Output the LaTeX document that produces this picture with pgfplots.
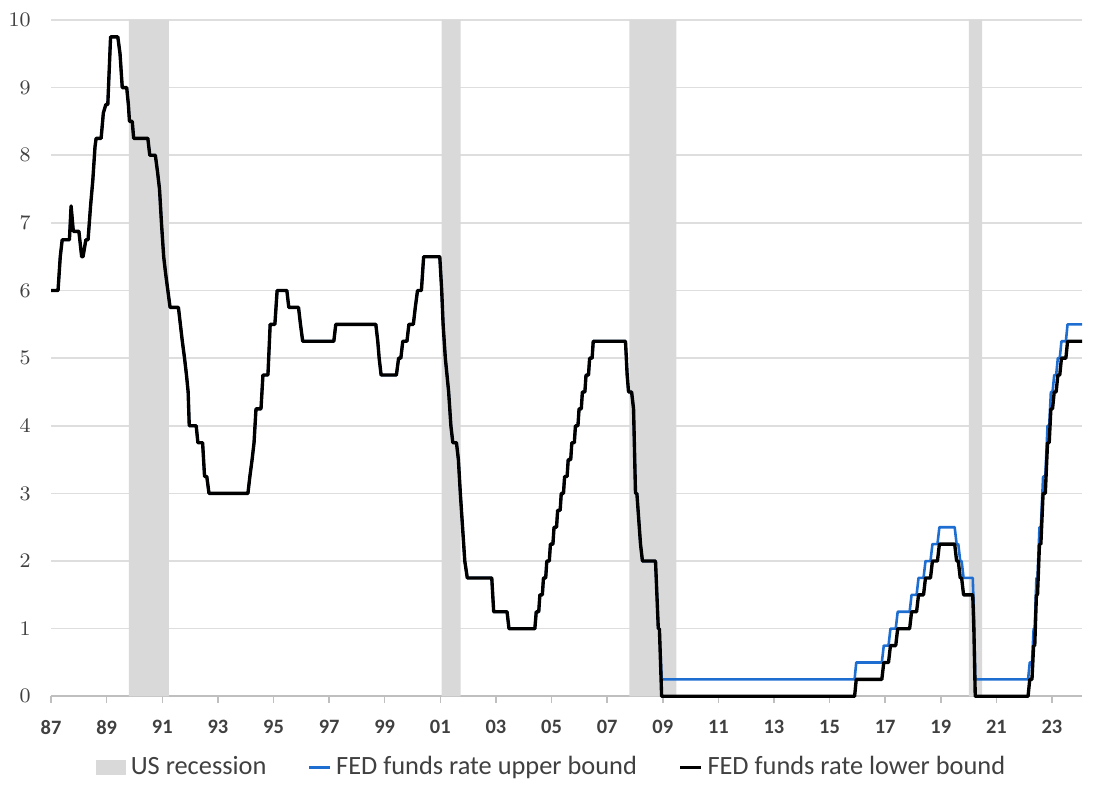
\documentclass[border=0pt]{standalone}
\usepackage{pgfplots}
\pgfplotsset{compat=1.18}
\usepackage{fontspec}
\setmainfont{Carlito}
\definecolor{recgray}{RGB}{217,217,217}
\definecolor{gridgray}{RGB}{222,222,222}
\definecolor{axgray}{RGB}{191,191,191}
\definecolor{fedblue}{RGB}{30,110,210}
\definecolor{txtgray}{RGB}{64,64,64}
\pgfplotsset{
 lineleg/.style={legend image code/.code={\draw[##1] (0pt,0pt) -- (8pt,0pt);}},
 recleg/.style={legend image code/.code={\fill[recgray] (0pt,-2.8pt) rectangle (11.5pt,2.8pt);}}}

\begin{document}
\begin{tikzpicture}
\begin{axis}[scale only axis,width=398.9pt,height=261.7pt,
 xmin=1987,xmax=2024.08,ymin=0,ymax=10,clip=false,
 axis lines=left,axis line style={-},
 x axis line style={axgray,line width=0.8pt},y axis line style={draw=none},
 ytick={0,1,...,10},ytick style={draw=none},
 xtick={1987,1989,...,2023},
 xticklabels={87,89,91,93,95,97,99,01,03,05,07,09,11,13,15,17,19,21,23},
 xtick style={axgray,line width=0.6pt},tick align=outside,major tick length=2.4pt,
 ymajorgrids,grid style={gridgray,line width=0.6pt},
 tick label style={font=\fontsize{7.9}{8}\selectfont\bfseries,text=txtgray},
 yticklabel style={xshift=-2.0pt},xticklabel style={yshift=-3.2pt},
 legend style={at={(0.487,-0.1049)},anchor=center,draw=none,legend columns=3,
  font=\fontsize{10.2}{12}\selectfont,text=txtgray,
  /tikz/every even column/.append style={column sep=14pt}},
 legend cell align=left]

% recessions
\addplot[fill=recgray,draw=none,recleg]
 coordinates {(1989.80,0)(1989.80,10)(1991.24,10)(1991.24,0)} \closedcycle;
\addplot[fill=recgray,draw=none,forget plot]
 coordinates {(2001.05,0)(2001.05,10)(2001.73,10)(2001.73,0)} \closedcycle;
\addplot[fill=recgray,draw=none,forget plot]
 coordinates {(2007.80,0)(2007.80,10)(2009.49,10)(2009.49,0)} \closedcycle;
\addplot[fill=recgray,draw=none,forget plot]
 coordinates {(2020.01,0)(2020.01,10)(2020.49,10)(2020.49,0)} \closedcycle;

% upper bound
\addplot[fedblue,line width=1.0pt,line join=round,lineleg]
 coordinates {
 (1987.00,6.00)(1987.25,6.00)(1987.33,6.50)(1987.40,6.75)(1987.66,6.75)(1987.72,7.25)
 (1987.80,6.875)(1988.00,6.875)(1988.10,6.50)(1988.15,6.50)(1988.25,6.75)(1988.33,6.75)
 (1988.42,7.25)(1988.50,7.625)(1988.58,8.125)(1988.62,8.25)(1988.80,8.25)(1988.88,8.625)
 (1988.97,8.75)(1989.04,8.75)(1989.14,9.75)(1989.40,9.75)(1989.48,9.50)(1989.56,9.00)
 (1989.72,9.00)(1989.78,8.75)(1989.82,8.50)(1989.92,8.50)(1989.97,8.25)(1990.48,8.25)
 (1990.55,8.00)(1990.75,8.00)(1990.83,7.75)(1990.90,7.50)(1990.97,7.00)(1991.05,6.50)
 (1991.12,6.25)(1991.20,6.00)(1991.28,5.75)(1991.58,5.75)(1991.65,5.50)(1991.72,5.25)
 (1991.80,5.00)(1991.87,4.75)(1991.93,4.50)(1991.97,4.00)(1992.22,4.00)(1992.28,3.75)
 (1992.45,3.75)(1992.52,3.25)(1992.60,3.25)(1992.68,3.00)(1994.08,3.00)(1994.15,3.25)
 (1994.23,3.50)(1994.30,3.75)(1994.37,4.25)(1994.55,4.25)(1994.62,4.75)(1994.80,4.75)
 (1994.88,5.50)(1995.05,5.50)(1995.13,6.00)(1995.48,6.00)(1995.55,5.75)(1995.90,5.75)
 (1995.97,5.50)(1996.05,5.25)(1997.17,5.25)(1997.24,5.50)(1998.68,5.50)(1998.75,5.25)
 (1998.80,5.00)(1998.87,4.75)(1999.42,4.75)(1999.50,5.00)(1999.58,5.00)(1999.65,5.25)
 (1999.80,5.25)(1999.87,5.50)(2000.03,5.50)(2000.10,5.75)(2000.18,6.00)(2000.32,6.00)
 (2000.40,6.50)(2000.98,6.50)(2001.05,6.00)(2001.10,5.50)(2001.18,5.00)(2001.30,4.50)
 (2001.38,4.00)(2001.45,3.75)(2001.58,3.75)(2001.65,3.50)(2001.72,3.00)(2001.80,2.50)
 (2001.88,2.00)(2001.97,1.75)(2002.85,1.75)(2002.92,1.25)(2003.40,1.25)(2003.47,1.00)
 (2004.40,1.00)(2004.45,1.25)(2004.54,1.25)(2004.58,1.50)(2004.67,1.50)(2004.71,1.75)
 (2004.79,1.75)(2004.83,2.00)(2004.92,2.00)(2004.96,2.25)(2005.05,2.25)(2005.09,2.50)
 (2005.18,2.50)(2005.22,2.75)(2005.31,2.75)(2005.35,3.00)(2005.43,3.00)(2005.47,3.25)
 (2005.56,3.25)(2005.60,3.50)(2005.69,3.50)(2005.73,3.75)(2005.82,3.75)(2005.86,4.00)
 (2005.95,4.00)(2005.99,4.25)(2006.07,4.25)(2006.11,4.50)(2006.20,4.50)(2006.24,4.75)
 (2006.33,4.75)(2006.37,5.00)(2006.46,5.00)(2006.50,5.25)(2007.66,5.25)(2007.72,4.75)
 (2007.77,4.50)(2007.88,4.50)(2007.95,4.25)(2008.02,3.00)(2008.07,3.00)(2008.20,2.25)
 (2008.27,2.00)(2008.74,2.00)(2008.79,1.50)(2008.84,1.00)(2008.88,1.00)(2008.96,0.25)
 (2015.90,0.25)(2015.96,0.50)(2016.88,0.50)(2016.95,0.75)(2017.12,0.75)(2017.19,1.00)
 (2017.38,1.00)(2017.45,1.25)(2017.88,1.25)(2017.95,1.50)(2018.13,1.50)(2018.20,1.75)
 (2018.38,1.75)(2018.45,2.00)(2018.63,2.00)(2018.70,2.25)(2018.88,2.25)(2018.95,2.50)
 (2019.50,2.50)(2019.57,2.25)(2019.63,2.25)(2019.70,2.00)(2019.75,2.00)(2019.82,1.75)
 (2020.15,1.75)(2020.19,1.25)(2020.24,0.25)(2022.14,0.25)(2022.20,0.50)(2022.28,0.50)
 (2022.34,1.00)(2022.38,1.00)(2022.44,1.75)(2022.48,1.75)(2022.55,2.50)(2022.60,2.50)
 (2022.68,3.25)(2022.76,3.25)(2022.84,4.00)(2022.90,4.00)(2022.96,4.50)(2023.02,4.50)
 (2023.08,4.75)(2023.15,4.75)(2023.21,5.00)(2023.28,5.00)(2023.34,5.25)(2023.50,5.25)
 (2023.56,5.50)(2024.08,5.50)};

% lower bound
\addplot[black,line width=1.3pt,line join=round,lineleg]
 coordinates {
 (1987.00,6.00)(1987.25,6.00)(1987.33,6.50)(1987.40,6.75)(1987.66,6.75)(1987.72,7.25)
 (1987.80,6.875)(1988.00,6.875)(1988.10,6.50)(1988.15,6.50)(1988.25,6.75)(1988.33,6.75)
 (1988.42,7.25)(1988.50,7.625)(1988.58,8.125)(1988.62,8.25)(1988.80,8.25)(1988.88,8.625)
 (1988.97,8.75)(1989.04,8.75)(1989.14,9.75)(1989.40,9.75)(1989.48,9.50)(1989.56,9.00)
 (1989.72,9.00)(1989.78,8.75)(1989.82,8.50)(1989.92,8.50)(1989.97,8.25)(1990.48,8.25)
 (1990.55,8.00)(1990.75,8.00)(1990.83,7.75)(1990.90,7.50)(1990.97,7.00)(1991.05,6.50)
 (1991.12,6.25)(1991.20,6.00)(1991.28,5.75)(1991.58,5.75)(1991.65,5.50)(1991.72,5.25)
 (1991.80,5.00)(1991.87,4.75)(1991.93,4.50)(1991.97,4.00)(1992.22,4.00)(1992.28,3.75)
 (1992.45,3.75)(1992.52,3.25)(1992.60,3.25)(1992.68,3.00)(1994.08,3.00)(1994.15,3.25)
 (1994.23,3.50)(1994.30,3.75)(1994.37,4.25)(1994.55,4.25)(1994.62,4.75)(1994.80,4.75)
 (1994.88,5.50)(1995.05,5.50)(1995.13,6.00)(1995.48,6.00)(1995.55,5.75)(1995.90,5.75)
 (1995.97,5.50)(1996.05,5.25)(1997.17,5.25)(1997.24,5.50)(1998.68,5.50)(1998.75,5.25)
 (1998.80,5.00)(1998.87,4.75)(1999.42,4.75)(1999.50,5.00)(1999.58,5.00)(1999.65,5.25)
 (1999.80,5.25)(1999.87,5.50)(2000.03,5.50)(2000.10,5.75)(2000.18,6.00)(2000.32,6.00)
 (2000.40,6.50)(2000.98,6.50)(2001.05,6.00)(2001.10,5.50)(2001.18,5.00)(2001.30,4.50)
 (2001.38,4.00)(2001.45,3.75)(2001.58,3.75)(2001.65,3.50)(2001.72,3.00)(2001.80,2.50)
 (2001.88,2.00)(2001.97,1.75)(2002.85,1.75)(2002.92,1.25)(2003.40,1.25)(2003.47,1.00)
 (2004.40,1.00)(2004.45,1.25)(2004.54,1.25)(2004.58,1.50)(2004.67,1.50)(2004.71,1.75)
 (2004.79,1.75)(2004.83,2.00)(2004.92,2.00)(2004.96,2.25)(2005.05,2.25)(2005.09,2.50)
 (2005.18,2.50)(2005.22,2.75)(2005.31,2.75)(2005.35,3.00)(2005.43,3.00)(2005.47,3.25)
 (2005.56,3.25)(2005.60,3.50)(2005.69,3.50)(2005.73,3.75)(2005.82,3.75)(2005.86,4.00)
 (2005.95,4.00)(2005.99,4.25)(2006.07,4.25)(2006.11,4.50)(2006.20,4.50)(2006.24,4.75)
 (2006.33,4.75)(2006.37,5.00)(2006.46,5.00)(2006.50,5.25)(2007.66,5.25)(2007.72,4.75)
 (2007.77,4.50)(2007.88,4.50)(2007.95,4.25)(2008.02,3.00)(2008.07,3.00)(2008.20,2.25)
 (2008.27,2.00)(2008.74,2.00)(2008.79,1.50)(2008.84,1.00)(2008.88,1.00)(2008.96,0.00)
 (2015.90,0.00)(2015.96,0.25)(2016.88,0.25)(2016.95,0.50)(2017.12,0.50)(2017.19,0.75)
 (2017.38,0.75)(2017.45,1.00)(2017.88,1.00)(2017.95,1.25)(2018.13,1.25)(2018.20,1.50)
 (2018.38,1.50)(2018.45,1.75)(2018.63,1.75)(2018.70,2.00)(2018.88,2.00)(2018.95,2.25)
 (2019.50,2.25)(2019.57,2.00)(2019.63,2.00)(2019.70,1.75)(2019.75,1.75)(2019.82,1.50)
 (2020.15,1.50)(2020.19,1.00)(2020.24,0.00)(2022.14,0.00)(2022.20,0.25)(2022.28,0.25)
 (2022.34,0.75)(2022.38,0.75)(2022.44,1.50)(2022.48,1.50)(2022.55,2.25)(2022.60,2.25)
 (2022.68,3.00)(2022.76,3.00)(2022.84,3.75)(2022.90,3.75)(2022.96,4.25)(2023.02,4.25)
 (2023.08,4.50)(2023.15,4.50)(2023.21,4.75)(2023.28,4.75)(2023.34,5.00)(2023.50,5.00)
 (2023.56,5.25)(2024.08,5.25)};

\legend{US recession,FED funds rate upper bound,FED funds rate lower bound}
\end{axis}
\path ([xshift=-19.33pt,yshift=-38.66pt]current axis.south west) rectangle ([xshift=6.96pt,yshift=7.73pt]current axis.north east);
\end{tikzpicture}
\end{document}
